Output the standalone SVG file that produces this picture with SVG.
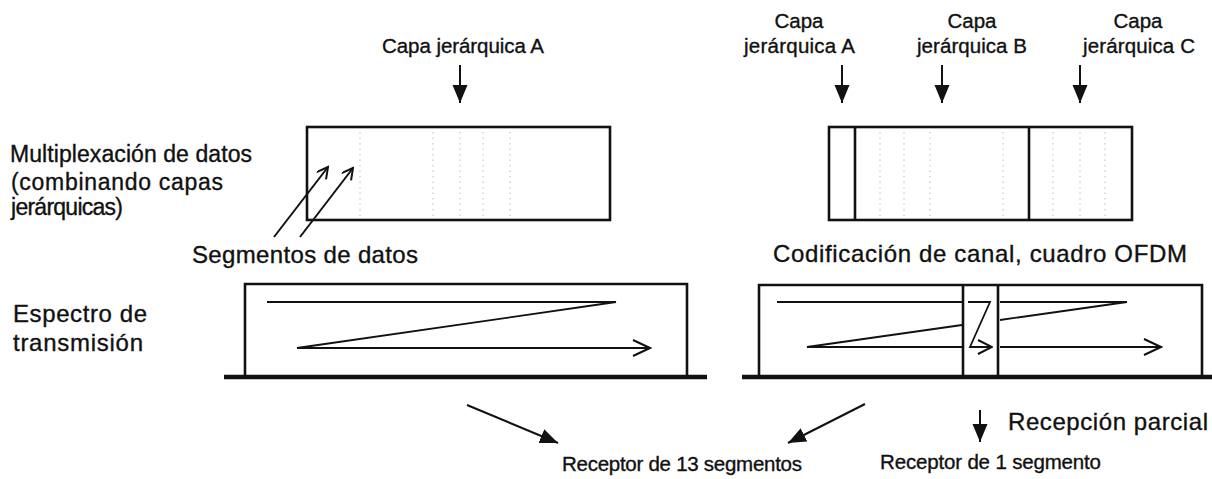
<svg xmlns="http://www.w3.org/2000/svg" width="1212" height="479" viewBox="0 0 1212 479">
<style>
text{font-family:"Liberation Sans",Arial,sans-serif;fill:#111;stroke:#111;stroke-width:0.35}
.t20{font-size:20.5px}
.t22{font-size:23px}
.t23{font-size:24px}
.box{fill:none;stroke:#111;stroke-width:2.6}
.div{stroke:#111;stroke-width:2.6}
.ground{stroke:#111;stroke-width:4.5}
.zig{fill:none;stroke:#111;stroke-width:1.8}
.arr{stroke:#111;stroke-width:2;fill:none}
.dot{stroke:#bdbdbd;stroke-width:1;stroke-dasharray:1.5 4}
</style>
<defs>
<marker id="fhead" markerUnits="userSpaceOnUse" markerWidth="18" markerHeight="16" refX="18" refY="8" orient="auto"><path d="M0,0.5 L18,8 L0,15.5 z" fill="#111"/></marker>
<marker id="ohead" markerUnits="userSpaceOnUse" markerWidth="20" markerHeight="20" refX="18" refY="9" orient="auto"><path d="M1,1 L18,9 L1,17" fill="none" stroke="#111" stroke-width="2"/></marker>
<marker id="shead" markerUnits="userSpaceOnUse" markerWidth="16" markerHeight="18" refX="15" refY="8" orient="auto"><path d="M1,1 L15,8 L1,15" fill="none" stroke="#111" stroke-width="2"/></marker>
<marker id="dhead" markerUnits="userSpaceOnUse" markerWidth="14" markerHeight="14" refX="12" refY="6" orient="auto"><path d="M1,0 L12,6 L1,12" fill="none" stroke="#111" stroke-width="2"/></marker>
</defs>

<g id="label-mux">
<text class="t22" x="10" y="162" textLength="242" lengthAdjust="spacing">Multiplexación de datos</text>
<text class="t22" x="11" y="190" textLength="212" lengthAdjust="spacing">(combinando capas</text>
<text class="t22" x="11" y="215" textLength="112" lengthAdjust="spacing">jerárquicas)</text>
</g>
<g id="label-espectro">
<text class="t23" x="13" y="322" textLength="134" lengthAdjust="spacing">Espectro de</text>
<text class="t23" x="13" y="351" textLength="130" lengthAdjust="spacing">transmisión</text>
</g>
<g id="label-capa-left">
<text class="t20" x="382" y="53" textLength="162" lengthAdjust="spacing">Capa jerárquica A</text>
</g>
<g id="label-capa-a">
<text class="t20" x="799" y="28" text-anchor="middle">Capa</text>
<text class="t20" x="744" y="53" textLength="111" lengthAdjust="spacing">jerárquica A</text>
</g>
<g id="label-capa-b">
<text class="t20" x="972" y="28" text-anchor="middle">Capa</text>
<text class="t20" x="917" y="53" textLength="110" lengthAdjust="spacing">jerárquica B</text>
</g>
<g id="label-capa-c">
<text class="t20" x="1138" y="28" text-anchor="middle">Capa</text>
<text class="t20" x="1083" y="53" textLength="112" lengthAdjust="spacing">jerárquica C</text>
</g>
<g id="label-segmentos">
<text class="t23" x="192" y="263" textLength="226" lengthAdjust="spacing">Segmentos de datos</text>
</g>
<g id="label-codificacion">
<text class="t23" x="773" y="262" textLength="414" lengthAdjust="spacing">Codificación de canal, cuadro OFDM</text>
</g>
<g id="label-recepcion">
<text class="t23" x="1008" y="430" textLength="200" lengthAdjust="spacing">Recepción parcial</text>
</g>
<g id="label-rx13">
<text class="t20" x="562" y="471" textLength="240" lengthAdjust="spacing">Receptor de 13 segmentos</text>
</g>
<g id="label-rx1">
<text class="t20" x="880" y="469" textLength="221" lengthAdjust="spacing">Receptor de 1 segmento</text>
</g>

<g id="mux-left">
<g>
<line class="dot" x1="360" y1="132" x2="360" y2="216"/>
<line class="dot" x1="433" y1="132" x2="433" y2="216"/>
<line class="dot" x1="460" y1="132" x2="460" y2="216"/>
<line class="dot" x1="483" y1="132" x2="483" y2="216"/>
<line class="dot" x1="510" y1="132" x2="510" y2="216"/>
</g>
<rect class="box" x="307" y="127" width="303" height="93"/>
</g>
<g id="mux-right">
<g>
<line class="dot" x1="880" y1="132" x2="880" y2="216"/>
<line class="dot" x1="904" y1="132" x2="904" y2="216"/>
<line class="dot" x1="930" y1="132" x2="930" y2="216"/>
<line class="dot" x1="1003" y1="132" x2="1003" y2="216"/>
<line class="dot" x1="1053" y1="132" x2="1053" y2="216"/>
<line class="dot" x1="1080" y1="132" x2="1080" y2="216"/>
<line class="dot" x1="1105" y1="132" x2="1105" y2="216"/>
</g>
<rect class="box" x="829" y="127" width="303" height="93"/>
<line class="div" x1="855" y1="127" x2="855" y2="220"/>
<line class="div" x1="1029" y1="127" x2="1029" y2="220"/>
</g>

<g id="spectrum-left">
<path class="box" d="M245,377 V284 H687 V377"/>
<line class="ground" x1="224" y1="377" x2="707" y2="377"/>
<path class="zig" d="M267,302 H616 L297,348 H650" marker-end="url(#ohead)"/>
</g>
<g id="spectrum-right">
<path class="box" d="M759,377 V285 H1202 V377"/>
<line class="div" x1="963" y1="285" x2="963" y2="377"/>
<line class="div" x1="998" y1="285" x2="998" y2="377"/>
<line class="ground" x1="742" y1="377" x2="1212" y2="377"/>
<path class="zig" d="M777,302 H962 M1000,302 H1127 L1000,320 M962,325 L807,347 H962 M1000,347 H1161" marker-end="url(#ohead)"/>
<path class="zig" d="M968,302 H990 L970,347 H992" marker-end="url(#shead)"/>
</g>

<g id="connectors">
<line class="arr" x1="460" y1="65" x2="460" y2="103" marker-end="url(#fhead)"/>
<line class="arr" x1="842" y1="65" x2="842" y2="103" marker-end="url(#fhead)"/>
<line class="arr" x1="942" y1="65" x2="942" y2="103" marker-end="url(#fhead)"/>
<line class="arr" x1="1080" y1="65" x2="1080" y2="103" marker-end="url(#fhead)"/>
<line class="arr" x1="274" y1="237" x2="328" y2="167" marker-end="url(#dhead)"/>
<line class="arr" x1="300" y1="237" x2="353" y2="168" marker-end="url(#dhead)"/>
<line class="arr" x1="467" y1="405" x2="558" y2="443" marker-end="url(#fhead)"/>
<line class="arr" x1="865" y1="404" x2="788" y2="443" marker-end="url(#fhead)"/>
<line class="arr" x1="980" y1="410" x2="980" y2="442" marker-end="url(#fhead)"/>
</g>
</svg>
